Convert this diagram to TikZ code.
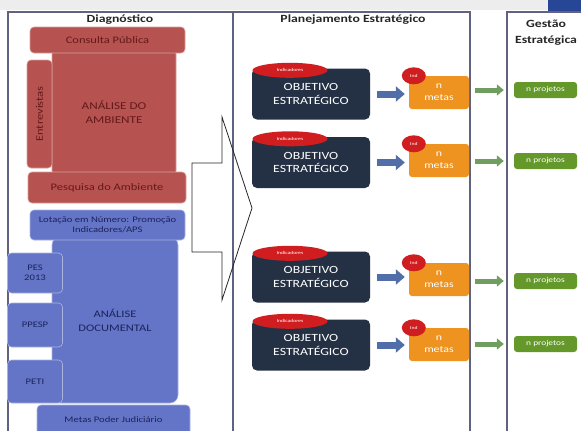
\documentclass[tikz,border=0pt]{standalone}
\usepackage{fontspec}
\setmainfont[FakeStretch=1.25]{Carlito}
\usetikzlibrary{arrows.meta,shapes.geometric}

\definecolor{diagred}{RGB}{182,82,79}
\definecolor{diagredtext}{RGB}{100,26,26}
\definecolor{diagblue}{RGB}{100,116,198}
\definecolor{diagbluetext}{RGB}{28,36,92}
\definecolor{objnavy}{RGB}{36,48,68}
\definecolor{indred}{RGB}{208,30,32}
\definecolor{metaorange}{RGB}{238,146,32}
\definecolor{arrowblue}{RGB}{82,110,168}
\definecolor{projgreen}{RGB}{100,152,42}
\definecolor{arrowgreen}{RGB}{112,158,96}
\definecolor{panelline}{RGB}{96,98,128}
\definecolor{topblue}{RGB}{40,70,150}

\begin{document}
\begin{tikzpicture}[x=1pt,y=-1pt]
        \tikzset{diag box/.style={draw=#1!55!white,fill=#1,rounded corners=4pt,line width=0.6pt,inner sep=1pt,align=center},
                 red box/.style={diag box=diagred,text=diagredtext,font=\fontsize{10}{13}\selectfont},
                 blue box/.style={diag box=diagblue,text=diagbluetext,font=\fontsize{8.5}{10}\selectfont},
                 obj box/.style={fill=objnavy,rounded corners=5pt,minimum width=118pt,minimum height=51pt,text=white,align=center,font=\fontsize{11}{13.5}\selectfont},
                 ind mark/.style={ellipse,fill=indred,text=white,inner sep=0pt,font=\fontsize{4.5}{5}\selectfont},
                 meta box/.style={fill=metaorange,rounded corners=3pt,minimum width=60pt,minimum height=33pt,text=white,align=center,font=\fontsize{9.5}{12}\selectfont},
                 proj box/.style={fill=projgreen,rounded corners=3pt,minimum width=63pt,minimum height=16pt,text=white,inner sep=0pt,font=\fontsize{7.5}{8}\selectfont},
                 to meta/.style={arrowblue,line width=7pt,-{Triangle[length=9pt,width=15pt]},shorten <=7pt,shorten >=4pt},
                 to proj/.style={arrowgreen,line width=5pt,-{Triangle[length=7pt,width=11pt]},shorten <=6pt,shorten >=10pt},
                 panel/.style={draw=panelline,line width=1.2pt},
                 col title/.style={font=\bfseries\fontsize{11}{16}\selectfont,text=black!85,align=center}}

        \useasboundingbox (0,0) rectangle (581,431);
        \fill[white] (0,0) rectangle (581,431);
        \fill[black!7] (0,0) rectangle (581,10);
        \fill[topblue] (548,0) rectangle (581,12);

        % the three columns
        \draw[panel] (8,431) |- (233,12) -- (233,431);
        \draw[panel] (233,12) -- (470,12) -- (470,431);
        \draw[panel] (507,431) |- (581,12);

        \node[col title] (diag) at (120,20) {Diagnóstico};
        \node[col title] (plan) at (353,19.5) {Planejamento Estratégico};
        \node[col title] (gest) at (546,32.5) {Gestão\\Estratégica};

        % diagnostico: ambiente
        \node[red box,minimum width=124pt,minimum height=125pt,font=\fontsize{10.5}{14}\selectfont] (amb) at (114,112.5) {ANÁLISE DO\\AMBIENTE};
        \node[red box,rotate=90,minimum width=108pt,minimum height=25pt] (ent) at (39.5,114) {Entrevistas};
        \node[red box,minimum width=155pt,minimum height=26pt] (cons) at (107.5,40) {Consulta Pública};
        \node[red box,minimum width=158pt,minimum height=31pt] (pesq) at (107,187.5) {Pesquisa do Ambiente};

        % diagnostico: documentos
        \node[blue box,minimum width=126pt,minimum height=166pt,rounded corners=8pt,font=\fontsize{10}{14}\selectfont] (doc) at (115,320) {ANÁLISE\\DOCUMENTAL};
        \node[blue box,minimum width=55pt,minimum height=40pt] (pes) at (35,273) {PES\\2013};
        \node[blue box,minimum width=55pt,minimum height=44pt] (ppesp) at (35,325) {PPESP};
        \node[blue box,minimum width=55pt,minimum height=43pt] (peti) at (35,381.5) {PETI};
        \node[blue box,minimum width=155pt,minimum height=30pt] (lot) at (107.5,225) {Lotação em Número: Promoção\\Indicadores/APS};
        \node[blue box,minimum width=153pt,minimum height=30pt] (mpj) at (113.5,420) {Metas Poder Judiciário};

        \draw[black!85,line width=0.8pt] (192,163) -- (222,163) -- (222,117) -- (252,208) -- (222,300) -- (222,252) -- (192,252) -- cycle;

        % planejamento
        \node[obj box] (O1) at (311,94) {OBJETIVO\\ESTRATÉGICO};
        \node[obj box] (O2) at (311,162.5) {OBJETIVO\\ESTRATÉGICO};
        \node[obj box] (O3) at (311,277) {OBJETIVO\\ESTRATÉGICO};
        \node[obj box] (O4) at (311,345) {OBJETIVO\\ESTRATÉGICO};
        \node[ind mark,minimum width=75pt,minimum height=15pt] (I1) at ([xshift=-21pt,yshift=-2pt]O1.north) {Indicadores};
        \node[ind mark,minimum width=75pt,minimum height=15pt] (I2) at ([xshift=-21pt,yshift=-2pt]O2.north) {Indicadores};
        \node[ind mark,minimum width=75pt,minimum height=15pt] (I3) at ([xshift=-21pt,yshift=-2pt]O3.north) {Indicadores};
        \node[ind mark,minimum width=75pt,minimum height=15pt] (I4) at ([xshift=-21pt,yshift=-2pt]O4.north) {Indicadores};

        \node[meta box] (M1) at (439,92.5) {n\\metas};
        \node[meta box] (M2) at (439,160.5) {n\\metas};
        \node[meta box] (M3) at (439,279.5) {n\\metas};
        \node[meta box] (M4) at (439,344.5) {n\\metas};
        \node[ind mark,minimum width=24pt,minimum height=17pt] (MI1) at ([xshift=5pt]M1.north west) {Ind};
        \node[ind mark,minimum width=24pt,minimum height=17pt] (MI2) at ([xshift=5pt]M2.north west) {Ind};
        \node[ind mark,minimum width=24pt,minimum height=17pt] (MI3) at ([xshift=5pt]M3.north west) {Ind};
        \node[ind mark,minimum width=24pt,minimum height=17pt] (MI4) at ([xshift=5pt]M4.north west) {Ind};

        \draw[to meta] (O1.east) -- (O1.east -| M1.west);
        \draw[to meta] (O2.east) -- (O2.east -| M2.west);
        \draw[to meta] (O3.east) -- (O3.east -| M3.west);
        \draw[to meta] (O4.east) -- (O4.east -| M4.west);

        % gestao
        \node[proj box] (P1) at (545.5,90) {n projetos};
        \node[proj box] (P2) at (545.5,161) {n projetos};
        \node[proj box] (P3) at (545.5,281) {n projetos};
        \node[proj box] (P4) at (545.5,344) {n projetos};

        \draw[to proj] (P1.west -| M1.east) -- (P1.west);
        \draw[to proj] (P2.west -| M2.east) -- (P2.west);
        \draw[to proj] (P3.west -| M3.east) -- (P3.west);
        \draw[to proj] (P4.west -| M4.east) -- (P4.west);
    \end{tikzpicture}
\end{document}
